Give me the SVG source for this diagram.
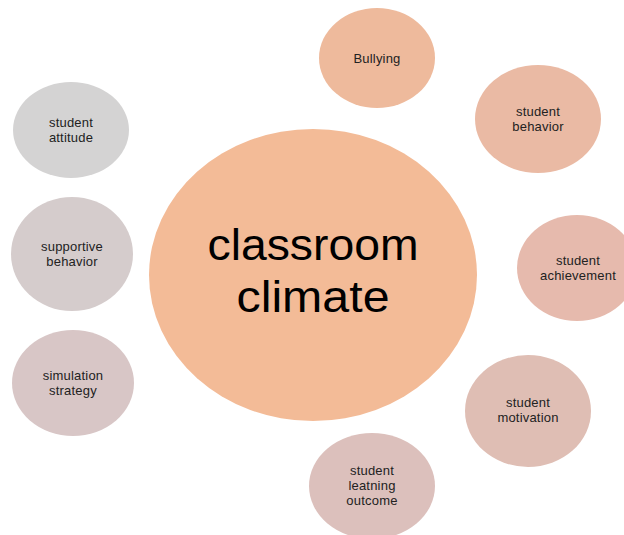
<svg xmlns="http://www.w3.org/2000/svg" width="624" height="535" viewBox="0 0 624 535">
<style>
text{font-family:"Liberation Sans",Arial,sans-serif;fill:#222;text-anchor:middle;font-size:13px;letter-spacing:0.2px}
.big{font-size:45px;fill:#000;letter-spacing:0}
</style>
<rect width="624" height="535" fill="#fff"/>
<g id="connectors"></g>
<g id="center">
<ellipse cx="313" cy="275" rx="164" ry="146" fill="#F3BB97"/>
<text class="big" x="313" y="260" textLength="211" lengthAdjust="spacingAndGlyphs">classroom</text>
<text class="big" x="313" y="312" textLength="153" lengthAdjust="spacingAndGlyphs">climate</text>
</g>
<g id="bullying">
<ellipse cx="377" cy="58" rx="58" ry="50" fill="#EEBA9C"/>
<text x="377" y="63">Bullying</text>
</g>
<g id="behavior">
<ellipse cx="538" cy="119" rx="63" ry="54" fill="#EABAA4"/>
<text x="538" y="116">student</text>
<text x="538" y="131">behavior</text>
</g>
<g id="achievement">
<ellipse cx="577" cy="268" rx="60" ry="53" fill="#E6BAAD"/>
<text x="578" y="265">student</text>
<text x="578" y="280">achievement</text>
</g>
<g id="motivation">
<ellipse cx="528" cy="411" rx="63" ry="56" fill="#DFBEB4"/>
<text x="528" y="407">student</text>
<text x="528" y="422">motivation</text>
</g>
<g id="outcome">
<ellipse cx="372" cy="486" rx="63" ry="53" fill="#DCC0BC"/>
<text x="372" y="475">student</text>
<text x="372" y="490">leatning</text>
<text x="372" y="505">outcome</text>
</g>
<g id="attitude">
<ellipse cx="71" cy="130" rx="58" ry="48" fill="#D4D3D3"/>
<text x="71" y="127">student</text>
<text x="71" y="142">attitude</text>
</g>
<g id="supportive">
<ellipse cx="72" cy="254" rx="61" ry="57" fill="#D5CCCC"/>
<text x="72" y="251">supportive</text>
<text x="72" y="266">behavior</text>
</g>
<g id="simulation">
<ellipse cx="73" cy="383" rx="61" ry="53" fill="#D8C6C6"/>
<text x="73" y="380">simulation</text>
<text x="73" y="395">strategy</text>
</g>
</svg>
